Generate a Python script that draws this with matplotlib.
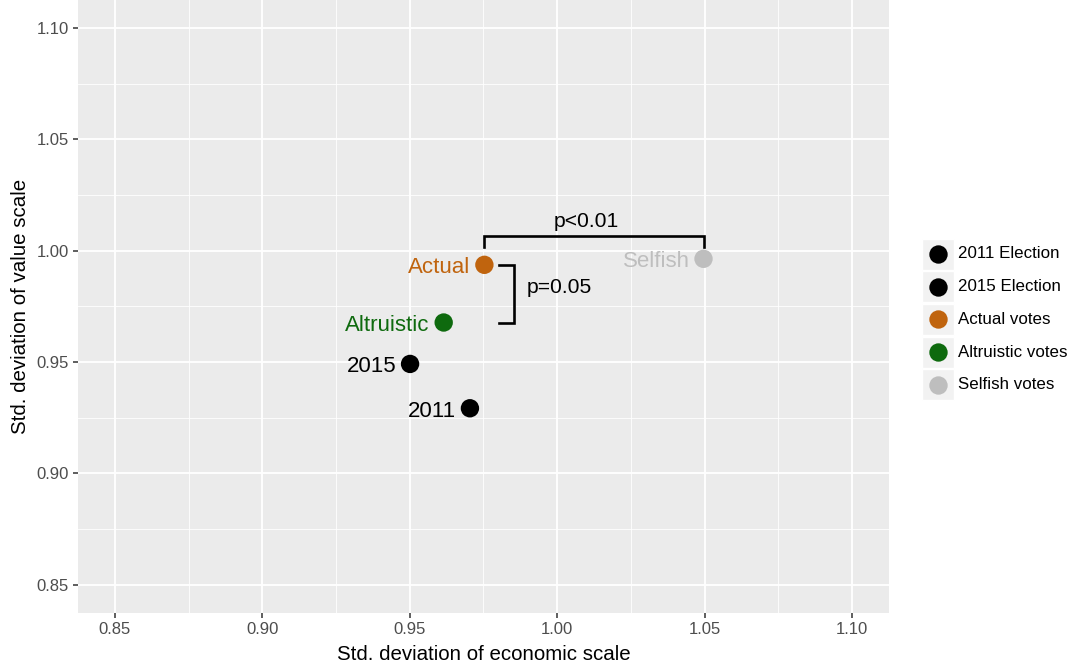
"""Spread of party positions on the economic and value scales, by vote type."""

import matplotlib

matplotlib.use("Agg")
import matplotlib.pyplot as plt
from matplotlib.patches import Rectangle

plt.rcParams["font.family"] = ["Liberation Sans", "DejaVu Sans"]

SERIES = ["2011 Election", "2015 Election", "Actual votes", "Altruistic votes", "Selfish votes"]
POINT_LABELS = ["2011", "2015", "Actual", "Altruistic", "Selfish"]
ECON_SD = [0.9704, 0.9501, 0.9753, 0.9615, 1.0496]
VALUE_SD = [0.9292, 0.9491, 0.9936, 0.9677, 0.9963]
COLORS = ["#000000", "#000000", "#C0640E", "#0E6A0E", "#BEBEBE"]

TICKS = [0.85, 0.90, 0.95, 1.00, 1.05, 1.10]
MINOR_TICKS = [0.875, 0.925, 0.975, 1.025, 1.075]

# significance brackets: (series a, series b, bracket offset, label)
BRACKET_TOP = ("Actual votes", "Selfish votes", 1.0066, "p<0.01")
BRACKET_SIDE = ("Altruistic votes", "Actual votes", 0.9853, "p=0.05")

BG = "#EBEBEB"


def main() -> None:
    fig = plt.figure(figsize=(10.68, 6.65), dpi=100)
    ax = fig.add_axes([78 / 1068, 1 - 612.5 / 665, (889 - 78) / 1068, 612.5 / 665])
    ax.set_facecolor(BG)
    for side in ax.spines.values():
        side.set_visible(False)

    lo, hi = 0.8375, 1.1125
    ax.set_xlim(lo, hi)
    ax.set_ylim(lo, hi)
    ax.set_xticks(TICKS)
    ax.set_yticks(TICKS)
    ax.set_xticklabels([f"{t:.2f}" for t in TICKS])
    ax.set_yticklabels([f"{t:.2f}" for t in TICKS])
    ax.set_xticks(MINOR_TICKS, minor=True)
    ax.set_yticks(MINOR_TICKS, minor=True)
    ax.grid(True, which="major", color="white", linewidth=1.3)
    ax.grid(True, which="minor", color="white", linewidth=0.6)
    ax.set_axisbelow(True)
    ax.tick_params(which="major", length=3.5, width=1.1, color="#333333",
                   labelcolor="#4D4D4D", labelsize=12, pad=3)
    ax.tick_params(which="minor", length=0)

    ax.set_xlabel("Std. deviation of economic scale", fontsize=14.8, labelpad=6)
    ax.set_ylabel("Std. deviation of value scale", fontsize=14.8, labelpad=5)

    ax.scatter(ECON_SD, VALUE_SD, s=175, c=COLORS, zorder=3, linewidths=0)
    for x, y, label, color in zip(ECON_SD, VALUE_SD, POINT_LABELS, COLORS):
        ax.annotate(label, xy=(x, y), xytext=(-10, -2), textcoords="offset points",
                    ha="right", va="center", fontsize=16, color=color)

    # horizontal bracket between two series
    a, b, y_top, text = BRACKET_TOP
    xa = ECON_SD[SERIES.index(a)]
    xb = ECON_SD[SERIES.index(b)]
    drop = 0.0048
    ax.plot([xa, xa, xb, xb], [y_top - drop, y_top, y_top, y_top - drop],
            color="black", linewidth=1.9, solid_joinstyle="miter", zorder=2)
    ax.text((xa + xb) / 2 - 0.0026, y_top + 0.0063, text, ha="center", va="center", fontsize=15.2)

    # vertical bracket between two series
    a, b, x_side, text = BRACKET_SIDE
    ya = VALUE_SD[SERIES.index(a)]
    yb = VALUE_SD[SERIES.index(b)]
    tip = 0.0049
    ax.plot([x_side - tip, x_side, x_side, x_side - tip], [ya, ya, yb, yb],
            color="black", linewidth=1.9, solid_joinstyle="miter", zorder=2)
    ax.text(x_side + 0.0042, (ya + yb) / 2 + 0.0026, text, ha="left", va="center", fontsize=15.2)

    # legend with grey key boxes
    lax = fig.add_axes([0, 0, 1, 1])
    lax.set_xlim(0, 1068)
    lax.set_ylim(665, 0)
    lax.axis("off")
    key_w, key_h, row = 32, 31, 32.7
    top = 238.5
    for i, (name, color) in enumerate(zip(SERIES, COLORS)):
        y0 = top + i * row
        lax.add_patch(Rectangle((922, y0), key_w, key_h, facecolor="#F2F2F2",
                                edgecolor="white", linewidth=1))
        lax.scatter([922 + key_w / 2], [y0 + key_h / 2], s=175, c=color, linewidths=0)
        lax.text(958, y0 + key_h / 2, name, ha="left", va="center", fontsize=12.2)

    fig.savefig("out.png", dpi=100)
    plt.close(fig)


if __name__ == "__main__":
    main()
